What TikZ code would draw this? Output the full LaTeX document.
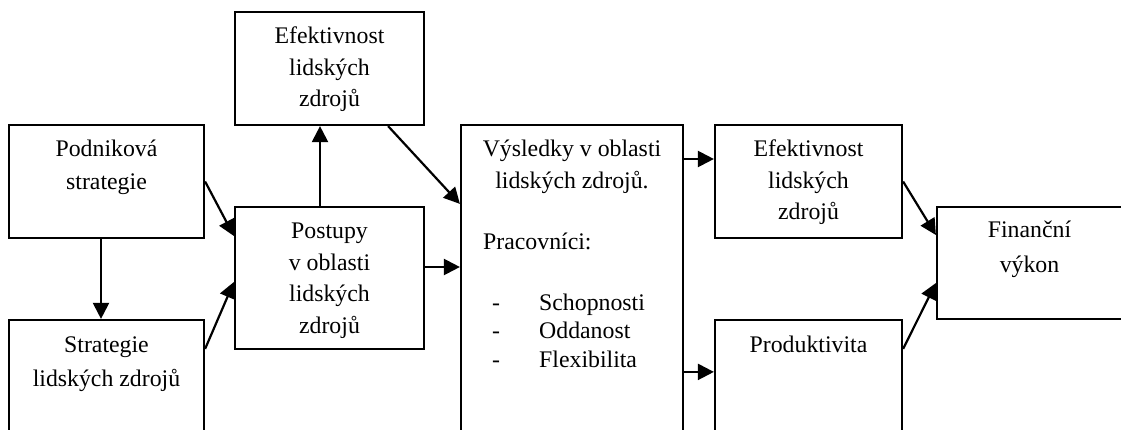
\documentclass[tikz,border=0pt]{standalone}
\usepackage{fontspec}
\setmainfont{Liberation Serif}
\usetikzlibrary{arrows.meta}
\tikzset{
  x=1pt, y=-1pt,
  box/.style={draw, line width=2.2pt, inner sep=0pt},
  txt/.style={inner sep=0pt, anchor=base, font=\fontsize{23.8}{31.5}\selectfont},
  conn/.style={line width=2.2pt, -{Triangle[length=16pt,width=16pt]}}
}
\newcommand{\boxlines}[2]{\parbox[t]{#1}{\centering #2}}
\begin{document}
\begin{tikzpicture}
\useasboundingbox (0,0) rectangle (1121,430);
\clip (0,0) rectangle (1121,430);
% boxes
\node[box, minimum width=189pt, minimum height=113pt] (eff1) at (329.5,68.5) {};
\node[box, minimum width=195pt, minimum height=113pt] (pod) at (106.5,181.5) {};
\node[box, minimum width=195pt, minimum height=120pt] (strat) at (106.5,380) {};
\node[box, minimum width=189pt, minimum height=142pt] (post) at (329.5,278) {};
\node[box, minimum width=222pt, minimum height=335pt] (vys) at (572,292.5) {};
\node[box, minimum width=187pt, minimum height=113pt] (eff2) at (808.5,181.5) {};
\node[box, minimum width=187pt, minimum height=120pt] (prod) at (808.5,380) {};
\node[box, minimum width=188pt, minimum height=112pt] (fin) at (1031,263) {};
% texts
\node[txt] (teff1) at (329.5,44) {\boxlines{180pt}{Efektivnost\\lidských\\zdrojů}};
\node[txt] (tpod) at (106.5,157) {\boxlines{190pt}{\baselineskip=33pt Podniková\\strategie}};
\node[txt] (tstrat) at (106.5,352) {\boxlines{190pt}{\baselineskip=34pt Strategie\\lidských zdrojů}};
\node[txt] (tpost) at (329.5,239) {\boxlines{180pt}{Postupy\\v oblasti\\lidských\\zdrojů}};
\node[txt] (tvys) at (572,157) {\boxlines{215pt}{Výsledky v oblasti\\lidských zdrojů.}};
\node[txt, anchor=base west] (tprac) at (483,250) {Pracovníci:};
\node[txt, anchor=base west] (tlist) at (492,310) {\parbox[t]{180pt}{\baselineskip=28.5pt
  \makebox[47pt][l]{-}Schopnosti\\
  \makebox[47pt][l]{-}Oddanost\\
  \makebox[47pt][l]{-}Flexibilita}};
\node[txt] (teff2) at (808.5,157) {\boxlines{180pt}{Efektivnost\\lidských\\zdrojů}};
\node[txt] (tprod) at (808.5,352) {Produktivita};
\node[txt] (tfin) at (1029.5,238) {\boxlines{180pt}{\baselineskip=34.5pt Finanční\\výkon}};
% connectors
\draw[conn] ([xshift=-5.5pt]pod.south) -- ([xshift=-5.5pt]strat.north);
\draw[conn] (pod.east) -- ([yshift=42pt]post.west);
\draw[conn] ([yshift=-30pt]strat.north east) -- ([yshift=-4pt]post.west);
\draw[conn] ([xshift=-9.5pt]post.north) -- ([xshift=-9.5pt]eff1.south);
\draw[conn] ([xshift=-37pt]eff1.south east) -- ([yshift=-80pt]vys.north west);
\draw[conn] ([yshift=11pt]post.east) -- ([yshift=11pt]post.east -| vys.west);
\draw[conn] ([yshift=22.5pt]eff2.west -| vys.east) -- ([yshift=22.5pt]eff2.west);
\draw[conn] ([yshift=-53pt]prod.north west -| vys.east) -- ([yshift=-53pt]prod.north west);
\draw[conn] (eff2.east) -- ([yshift=28pt]fin.west);
\draw[conn] ([yshift=-30pt]prod.north east) -- ([yshift=-20pt]fin.west);
\end{tikzpicture}
\end{document}
